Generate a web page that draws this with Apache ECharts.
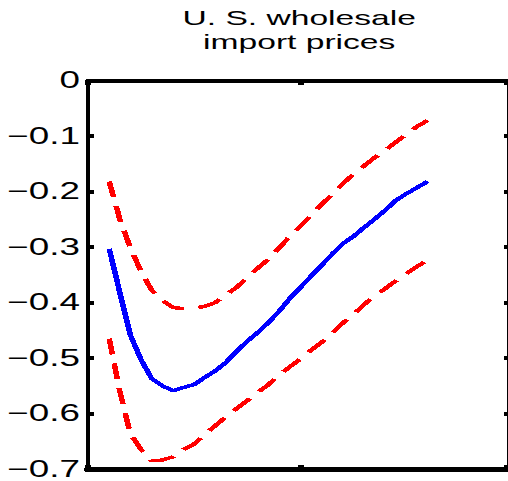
<!DOCTYPE html>
<html>
<head>
<meta charset="utf-8">
<script src="https://cdn.jsdelivr.net/npm/echarts@6/dist/echarts.min.js"></script>
<style>
  html, body { margin: 0; padding: 0; background: #fff; overflow: hidden; }
  /* the figure is drawn at its native width, then widened to the page */
  #chart {
    width: 317.5px; height: 481px;
    transform: scaleX(1.6); transform-origin: 0 0;
  }
  #chart path { shape-rendering: crispEdges; }
</style>
</head>
<body>
<div id="chart"></div>
<script>
// Response horizon (periods after the shock)
const horizons = [2, 3, 4, 5, 6, 7, 8, 9, 10, 11, 12, 13, 14, 15, 16, 17,
  18, 19, 20, 21, 22, 23, 24, 25, 26, 27, 28, 29, 30, 31, 32];

// Point estimate of the impulse response
const response = [-0.303, -0.382, -0.459, -0.503, -0.537, -0.550, -0.559, -0.553,
  -0.548, -0.535, -0.523, -0.508, -0.488, -0.470, -0.454, -0.436, -0.416, -0.393,
  -0.373, -0.353, -0.333, -0.313, -0.294, -0.281, -0.265, -0.250, -0.234, -0.216,
  -0.204, -0.193, -0.182];

// Upper confidence band
const upperBand = [-0.182, -0.250, -0.302, -0.344, -0.378, -0.396, -0.409, -0.411,
  -0.410, -0.407, -0.400, -0.386, -0.373, -0.355, -0.338, -0.322, -0.302, -0.281,
  -0.263, -0.243, -0.224, -0.205, -0.186, -0.169, -0.154, -0.139, -0.126, -0.111,
  -0.097, -0.083, -0.072];

// Lower confidence band
const lowerBand = [-0.465, -0.560, -0.637, -0.665, -0.685, -0.684, -0.678, -0.665,
  -0.655, -0.638, -0.622, -0.606, -0.591, -0.577, -0.562, -0.548, -0.531, -0.516,
  -0.502, -0.486, -0.472, -0.456, -0.437, -0.422, -0.404, -0.388, -0.375, -0.361,
  -0.348, -0.335, -0.324];

// Y-axis tick values
const yTicks = [0, -0.1, -0.2, -0.3, -0.4, -0.5, -0.6, -0.7];

const titleText = 'U. S. wholesale\nimport prices';

const FONT = '"Liberation Sans", Arial, sans-serif';

const pairs = ys => horizons.map((h, i) => [h, ys[i]]);

const fmtTick = v => {
  const r = Math.round(v * 10) / 10;
  if (!yTicks.some(t => Math.abs(t - r) < 1e-9)) return '';
  return r === 0 ? '0' : '\u2212' + Math.abs(r).toFixed(1);
};

const chart = echarts.init(document.getElementById('chart'), null, { renderer: 'svg' });

chart.setOption({
  animation: false,
  backgroundColor: '#fff',
  title: {
    text: titleText,
    left: 187,
    top: 5.5,
    padding: 0,
    textAlign: 'center',
    textStyle: {
      fontFamily: FONT, fontSize: 21, fontWeight: 'normal',
      color: '#000', lineHeight: 24
    }
  },
  grid: { left: 55, right: 1, top: 80.5, bottom: 12, containLabel: false },
  xAxis: [
    {
      type: 'value', position: 'bottom', min: 0, max: 39.5, interval: 20,
      axisLine: { show: true, onZero: false, lineStyle: { color: '#000', width: 5 } },
      axisTick: { show: true, inside: true, length: 4.5, lineStyle: { color: '#000', width: 3.5 } },
      axisLabel: { show: false }, splitLine: { show: false }
    },
    {
      type: 'value', position: 'top', min: 0, max: 39.5, interval: 20,
      axisLine: { show: true, onZero: false, lineStyle: { color: '#000', width: 4 } },
      axisTick: { show: true, inside: true, length: 4.5, lineStyle: { color: '#000', width: 3.5 } },
      axisLabel: { show: false }, splitLine: { show: false }
    }
  ],
  yAxis: [
    {
      type: 'value', position: 'left', min: -0.7, max: 0, interval: 0.1,
      axisLine: { show: true, onZero: false, lineStyle: { color: '#000', width: 2 } },
      axisTick: { show: true, inside: true, length: 3.5, lineStyle: { color: '#000', width: 4 } },
      axisLabel: {
        show: true, margin: 5, color: '#000', fontFamily: FONT, fontSize: 23,
        formatter: fmtTick
      },
      splitLine: { show: false }
    },
    {
      type: 'value', position: 'right', min: -0.7, max: 0, interval: 0.1,
      axisLine: { show: true, onZero: false, lineStyle: { color: '#000', width: 1 } },
      axisTick: { show: true, inside: true, length: 2, lineStyle: { color: '#000', width: 4 } },
      axisLabel: { show: false }, splitLine: { show: false }
    }
  ],
  series: [
    {
      name: 'upper', type: 'line', data: pairs(upperBand), symbol: 'none',
      lineStyle: { color: '#ff0000', width: 3.5, type: [16, 9] }, z: 2
    },
    {
      name: 'lower', type: 'line', data: pairs(lowerBand), symbol: 'none',
      lineStyle: { color: '#ff0000', width: 3.5, type: [16, 9] }, z: 2
    },
    {
      name: 'response', type: 'line', data: pairs(response), symbol: 'none',
      lineStyle: { color: '#0000ff', width: 3.5 }, z: 3
    }
  ]
});
</script>
</body>
</html>
